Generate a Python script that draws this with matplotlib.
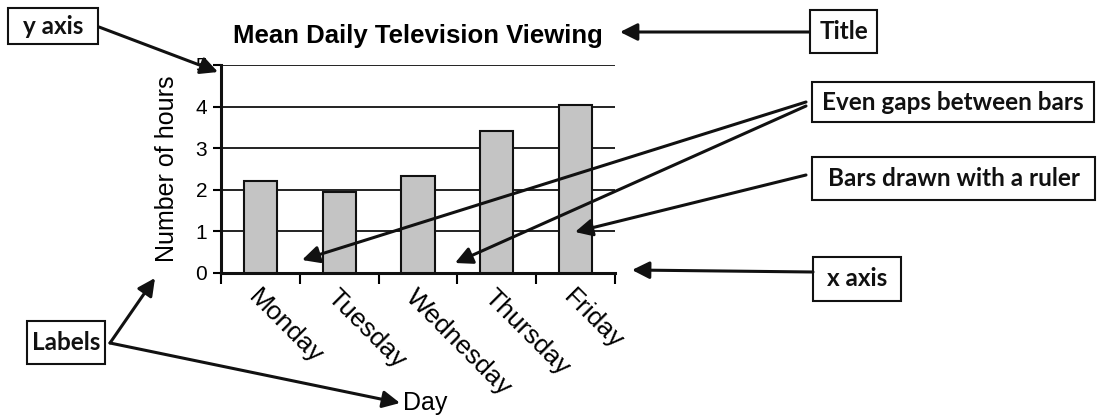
import matplotlib.pyplot as plt
from matplotlib.patches import Rectangle, FancyArrowPatch

# data
days = ['Monday', 'Tuesday', 'Wednesday', 'Thursday', 'Friday']
hours = [2.21, 1.95, 2.33, 3.41, 4.05]

W, H = 1101, 418
fig = plt.figure(figsize=(W / 100, H / 100), dpi=100)
fig.patch.set_facecolor('white')

chart_font = 'Liberation Sans'
note_font = 'Lato'

# chart axes, placed in pixels
x0, x1, ytop, ybot = 221, 615, 65, 273
ax = fig.add_axes([x0 / W, (H - ybot) / H, (x1 - x0) / W, (ybot - ytop) / H])

pos = list(range(len(days)))
ax.bar(pos, hours, width=0.42, color='#c4c4c4', edgecolor='#111111', linewidth=1.5, zorder=3)

ax.set_xlim(-0.5, len(days) - 0.5)
ax.set_ylim(0, 5)
ax.set_yticks(range(6))
ax.yaxis.grid(True, color='#111111', linewidth=1.3, zorder=0)
ax.set_axisbelow(True)

# ticks between the bars, labels under the bars
ax.set_xticks([p - 0.5 for p in pos] + [len(days) - 0.5])
ax.set_xticklabels([])
ax.set_xticks(pos, minor=True)
ax.set_xticklabels(days, minor=True, rotation=-45, ha='left', va='top',
                   rotation_mode='anchor', fontsize=19, family=chart_font)
ax.tick_params(axis='x', which='minor', length=0, pad=9)
ax.tick_params(axis='x', which='major', length=8, width=1.5, direction='out')
ax.tick_params(axis='y', length=6, width=1.5, direction='out', labelsize=15, pad=4)
for lab in ax.get_yticklabels():
    lab.set_family(chart_font)

for s in ['top', 'right']:
    ax.spines[s].set_visible(False)
for s in ['left', 'bottom']:
    ax.spines[s].set_linewidth(2.2)
    ax.spines[s].set_color('#111111')

ax.set_ylabel('Number of hours', fontsize=18, family=chart_font)
ax.yaxis.set_label_coords((179 - x0) / (x1 - x0), 0.5)
ax.set_title('Mean Daily Television Viewing', fontsize=18.5, fontweight='bold',
             family=chart_font, pad=16)

# overlay in pixel coordinates for the notes
ov = fig.add_axes([0, 0, 1, 1], facecolor='none')
ov.set_xlim(0, W)
ov.set_ylim(H, 0)
ov.axis('off')

ov.text(403, 403, 'Day', fontsize=18, family=chart_font, ha='left', va='center')

boxes = [
    ('y axis', 8, 8, 98, 44),
    ('Title', 810, 10, 877, 53),
    ('Even gaps between bars', 812, 82, 1094, 122),
    ('Bars drawn with a ruler', 812, 157, 1095, 200),
    ('x axis', 813, 257, 901, 301),
    ('Labels', 27, 321, 105, 364),
]
for txt, bx0, by0, bx1, by1 in boxes:
    ov.add_patch(Rectangle((bx0, by0), bx1 - bx0, by1 - by0, fill=False,
                           edgecolor='#111111', linewidth=1.5))
    ov.text((bx0 + bx1) / 2, (by0 + by1) / 2, txt, fontsize=17.5, family=note_font,
            fontweight='bold', ha='center', va='center', color='#111111')

arrows = [
    ((99, 27), (218, 72)),
    ((809, 32), (620, 32)),
    ((806, 102), (302, 260)),
    ((806, 106), (455, 263)),
    ((806, 175), (575, 232)),
    ((813, 272), (632, 270)),
    ((110, 343), (155, 278)),
    ((110, 343), (400, 403)),
]
for (sx, sy), (ex, ey) in arrows:
    ov.add_patch(FancyArrowPatch((sx, sy), (ex, ey), arrowstyle='-|>',
                                 mutation_scale=26, linewidth=2.2, color='#111111',
                                 shrinkA=0, shrinkB=0))

fig.savefig('out.png', dpi=100)
